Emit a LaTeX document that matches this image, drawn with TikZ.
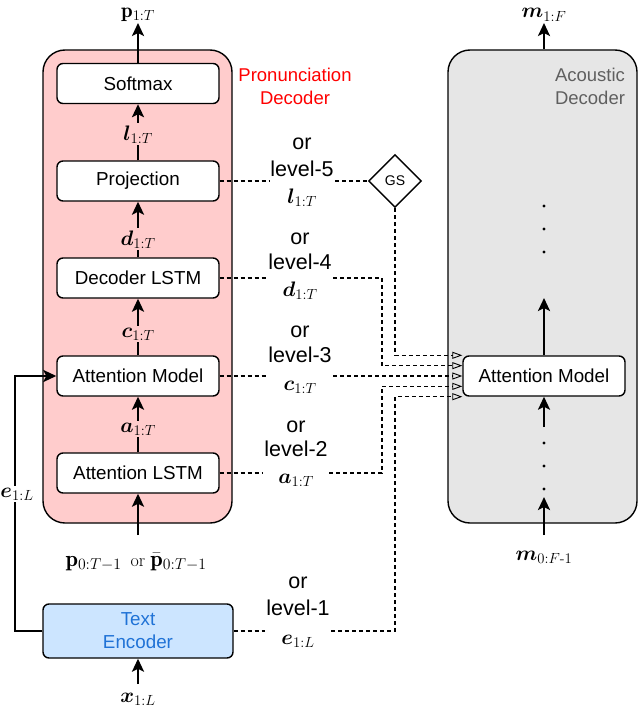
\RequirePackage{fix-cm}
\documentclass[tikz,border=0pt]{standalone}
\usepackage{amsmath}
\usepackage{bm}
\usepackage{fontspec}
\newfontfamily\hv{Liberation Sans}
\usetikzlibrary{shapes.geometric,arrows.meta,fit,calc}
\definecolor{pinkbg}{HTML}{FFCCCC}
\definecolor{graybg}{HTML}{E6E6E6}
\definecolor{bluebg}{HTML}{CCE5FF}
\definecolor{bluetxt}{HTML}{1F72D6}
\definecolor{redtxt}{HTML}{FF0000}
\definecolor{graytxt}{HTML}{5F5F5F}
\begin{document}
\begin{tikzpicture}[x=1pt,y=-1pt,
  container/.style={draw=black, line width=1.4pt, rounded corners=22pt, inner sep=0pt},
  block/.style={draw=black, line width=1.4pt, fill=white, rounded corners=6pt,
    minimum width=162pt, minimum height=40pt, inner sep=0pt,
    font=\hv\fontsize{18.8}{23}\selectfont},
  flow/.style={line width=2.4pt, -{Stealth[length=13pt,width=12pt,inset=3pt]}},
  tapline/.style={line width=1.3pt, dash pattern=on 4pt off 3pt},
  taparrow/.style={tapline, -{Triangle[open,length=10pt,width=7pt,line width=0.9pt]}},
  lvl/.style={font=\hv\fontsize{21.5}{25}\selectfont, anchor=base, inner sep=0pt},
  mth/.style={font=\fontsize{21}{25}\selectfont, anchor=base, inner sep=0pt},
  title/.style={font=\hv\fontsize{18.5}{23}\selectfont, align=center},
  dot/.style={circle, fill=black, inner sep=0pt, minimum size=3.4pt},
]
\useasboundingbox (0,0) rectangle (640,709);

% containers
\node[container, fill=pinkbg, minimum width=189pt, minimum height=473pt] (pd) at (137.5,286.5) {};
\node[container, fill=graybg, minimum width=189pt, minimum height=473pt] (ad) at (542.5,286.5) {};
\node[title, text=redtxt] (pdt) at (295,86) {Pronunciation\\Decoder};
\node[title, text=graytxt] (adt) at (590,86) {Acoustic\\Decoder};

% blocks
\node[block] (sm) at (138,83.5) {Softmax};
\node[block] (proj) at (138,181) {Projection};
\node[block] (dec) at (138,278) {Decoder LSTM};
\node[block] (am) at (138,376) {Attention Model};
\node[block] (al) at (138,473) {Attention LSTM};
\node[block, minimum width=190pt, minimum height=54pt, fill=bluebg, text=bluetxt, align=center] (te) at (138,631) {Text\\Encoder};
\node[block] (am2) at (544,376) {Attention Model};
\node[diamond, draw=black, line width=1.4pt, fill=white, minimum size=53pt, inner sep=0pt,
  font=\hv\fontsize{14}{16}\selectfont] (gs) at (395,181) {GS};

% coordinates
\coordinate (ptip) at (138,23);
\coordinate (mtip) at (544,23);
\coordinate (aup) at (544,298);
\coordinate (alow) at (544,427);
\coordinate (mbot) at (544,535);
\coordinate (mbtip) at (544,497);
\coordinate (pin) at (138,535);
\coordinate (xin) at (138,684);
\coordinate (ec) at (15,500);
\coordinate (k4) at (382,0);
\coordinate (k5) at (395,0);
\coordinate (t1) at (am2.north west);
\coordinate (t2) at ($(am2.north west)!0.25!(am2.south west)$);
\coordinate (t3) at (am2.west);
\coordinate (t4) at ($(am2.north west)!0.75!(am2.south west)$);
\coordinate (t5) at (am2.south west);

% pronunciation decoder flow
\draw[flow] (sm.north) -- (ptip);
\node[mth, anchor=south, inner sep=1pt] (plab) at (ptip) {$\mathbf{p}_{1:T}$};
\draw[flow] (proj) -- (sm);
\draw[flow] (dec) -- (proj);
\draw[flow] (am) -- (dec);
\draw[flow] (al) -- (am);
\draw[flow] (pin) -- (al.south);
\node[mth, fill=pinkbg, inner sep=2pt] (ll) at (138,140) {$\bm{l}_{1:T}$};
\node[mth, fill=pinkbg, inner sep=2pt] (dl) at (138,245) {$\bm{d}_{1:T}$};
\node[mth, fill=pinkbg, inner sep=2pt] (cl) at (138,337) {$\bm{c}_{1:T}$};
\node[mth, fill=pinkbg, inner sep=2pt] (al2) at (138,432) {$\bm{a}_{1:T}$};
\node[anchor=base, inner sep=0pt, font=\fontsize{22.5}{26}\selectfont] (pinl) at (136,566)
  {$\mathbf{p}_{0:T-1}$\hspace{9pt}{\fontsize{18}{20}\selectfont or}\hspace{5pt}$\bar{\mathbf{p}}_{0:T-1}$};

% text encoder
\draw[flow] (xin) -- (te.south);
\node[mth] (xl) at (138,702) {$\bm{x}_{1:L}$};
\draw[flow] (te.west) -| (ec) |- (am.west);
\node[mth, fill=white, inner sep=2pt] (el) at (17,497) {$\bm{e}_{1:L}$};

% acoustic decoder flow
\draw[flow] (ad.north -| mtip) -- (mtip);
\node[mth] (mlab) at (544,18) {$\bm{m}_{1:F}$};
\draw[flow] (am2.north) -- (aup);
\foreach \y [count=\i] in {206,229,252} \node[dot] (du\i) at (544,\y) {};
\draw[flow] (alow) -- (am2.south);
\foreach \y [count=\i] in {443,466,489} \node[dot] (dd\i) at (544,\y) {};
\draw[flow] (mbot) -- (mbtip);
\node[mth] (mlab2) at (544,560) {$\bm{m}_{0:F\text{-}1}$};

% level labels
\node[lvl] (o5) at (302,149) {or};
\node[lvl] (v5) at (302,176) {level-5};
\node[mth] (m5) at (302,203) {$\bm{l}_{1:T}$};
\node[fit=(o5)(v5)(m5), inner sep=1pt] (g5) {};
\node[lvl] (o4) at (300,244) {or};
\node[lvl] (v4) at (300,269) {level-4};
\node[mth] (m4) at (300,296) {$\bm{d}_{1:T}$};
\node[fit=(o4)(v4)(m4), inner sep=1pt] (g4) {};
\node[lvl] (o3) at (300,337) {or};
\node[lvl] (v3) at (300,362) {level-3};
\node[mth] (m3) at (300,390) {$\bm{c}_{1:T}$};
\node[fit=(o3)(v3)(m3), inner sep=1pt] (g3) {};
\node[lvl] (o2) at (296,432) {or};
\node[lvl] (v2) at (296,456) {level-2};
\node[mth] (m2) at (296,483) {$\bm{a}_{1:T}$};
\node[fit=(o2)(v2)(m2), inner sep=1pt] (g2) {};
\node[lvl] (o1) at (298,588) {or};
\node[lvl] (v1) at (298,615) {level-1};
\node[mth] (m1) at (298,644) {$\bm{e}_{1:L}$};
\node[fit=(o1)(v1)(m1), inner sep=1pt] (g1) {};

% taps
\draw[tapline] (proj.east) -- (proj.east -| g5.west);
\draw[tapline] (proj.east -| g5.east) -- (gs.west);
\draw[taparrow] (gs.south) |- (t1);
\draw[tapline] (dec.east) -- (dec.east -| g4.west);
\draw[taparrow] (dec.east -| g4.east) -- (dec.east -| k4) |- (t2);
\draw[tapline] (am.east) -- (am.east -| g3.west);
\draw[taparrow] (am.east -| g3.east) -- (t3);
\draw[tapline] (al.east) -- (al.east -| g2.west);
\draw[taparrow] (al.east -| g2.east) -- (al.east -| k4) |- (t4);
\draw[tapline] (te.east) -- (te.east -| g1.west);
\draw[taparrow] (te.east -| g1.east) -- (te.east -| k5) |- (t5);
\end{tikzpicture}
\end{document}
